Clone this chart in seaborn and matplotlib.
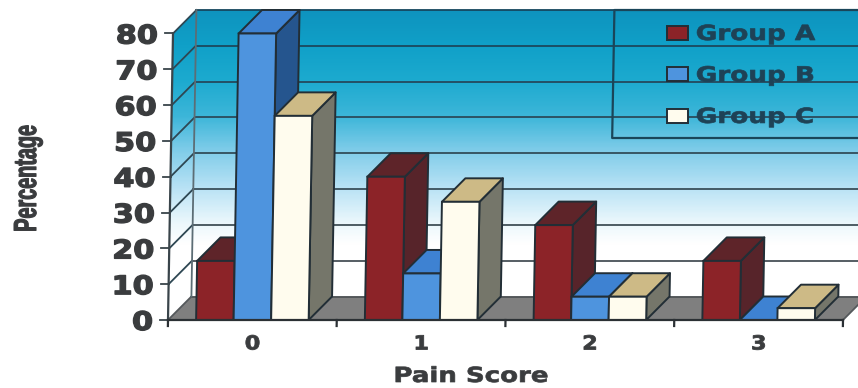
import matplotlib
matplotlib.use("Agg")
import matplotlib.pyplot as plt
import numpy as np
import pandas as pd
import seaborn as sns
from matplotlib.colors import LinearSegmentedColormap, to_rgb
from matplotlib.patches import Polygon
from matplotlib.patheffects import AbstractPathEffect
from matplotlib.transforms import Affine2D

# Chart values
SCORES = ["0", "1", "2", "3"]
GROUPS = ["Group A", "Group B", "Group C"]
GROUP_A = [16.5, 40, 26.5, 16.5]
GROUP_B = [80, 13, 6.5, 0]
GROUP_C = [57, 33, 6.5, 3.3]
Y_TICKS = [0, 10, 20, 30, 40, 50, 60, 70, 80]

# Face colours of each group: front, top, side
FRONT = ["#8C2328", "#4E94DE", "#FFFCEE"]
TOP = ["#5E2429", "#3E82D2", "#CDBA86"]
SIDE = ["#57242A", "#25558E", "#75766A"]
EDGE = "#222E36"
TEXT = "#3A3C3E"

W, H = 858, 388
X0, X1, Y0, Y80 = 168, 843, 320, 33.5
PX_X = (X1 - X0) / 4
PX_Y = (Y0 - Y80) / 80
DX = 23 / PX_X          # depth of the 3-D box, in data units
DY = 23.5 / PX_Y
SKEW = (5 / PX_X) / 80  # the whole plot leans slightly to the right


class Stretch(AbstractPathEffect):
    """Widen text about its left, centre or right edge and thicken its strokes."""

    def __init__(self, sx, anchor="center", heavy=0.0):
        super().__init__()
        self.sx, self.anchor, self.heavy = sx, anchor, heavy

    def draw_path(self, renderer, gc, tpath, affine, rgbFace=None):
        xs = tpath.vertices[:, 0]
        pivot = {"left": xs.min(), "right": xs.max(), "center": (xs.min() + xs.max()) / 2}[self.anchor]
        local = Affine2D().translate(-pivot, 0).scale(self.sx, 1).translate(pivot, 0)
        gc0 = renderer.new_gc()
        gc0.copy_properties(gc)
        gc0.set_foreground(rgbFace)
        gc0.set_linewidth(self.heavy)
        renderer.draw_path(gc0, tpath, local + affine, rgbFace)
        gc0.restore()


sns.set_theme(style="white")
fig = plt.figure(figsize=(W / 100, H / 100), dpi=100, facecolor="white")
ax = fig.add_axes([X0 / W, (H - Y0) / H, (X1 - X0) / W, (Y0 - Y80) / H])

df = pd.DataFrame({
    "score": SCORES * 3,
    "group": np.repeat(GROUPS, 4),
    "pct": GROUP_A + GROUP_B + GROUP_C,
})
sns.barplot(data=df, x="score", y="pct", hue="group", order=SCORES, hue_order=GROUPS,
            palette=FRONT, saturation=1, width=0.667, gap=0, errorbar=None,
            edgecolor=EDGE, linewidth=1.4, legend=False, ax=ax)
ax.set_xlim(-0.5, 3.5)
ax.set_ylim(0, 80)
ax.set_axis_off()

tr = Affine2D.from_values(1, 0, SKEW, 1, 0, 0) + ax.transData
L, R = -0.5, 3.5

# Gradient on the back and left walls
stops_px = [10, 45, 80, 117, 150, 188, 222, 245, 320]
stops_col = ["#0E93BE", "#10A0C8", "#1CAACF", "#3DB6D9", "#7ECCE9", "#B8E2F5",
             "#EAF7FC", "#FFFFFF", "#FFFFFF"]
cmap = LinearSegmentedColormap.from_list(
    "wall", [((p - 10) / 310, c) for p, c in zip(stops_px, stops_col)])
wall_shape = Polygon([(L, 0), (L + DX, DY), (R + DX, DY), (R + DX, 80 + DY), (L + DX, 80 + DY), (L, 80)],
                     transform=tr)
img = ax.imshow(np.linspace(0, 1, 310)[:, None], cmap=cmap, aspect="auto", zorder=0,
                extent=[-1, 4, 0, 80 + DY], origin="upper")
img.set_clip_box(fig.bbox)
img.set_clip_path(wall_shape)
ax.set_xlim(L, R)
ax.set_ylim(0, 80)

# Floor
ax.add_patch(Polygon([(L, 0), (L + DX, DY), (R + DX, DY), (R, 0)], transform=tr, clip_on=False,
                     facecolor="#7F7F7F", edgecolor="none", zorder=1))


def grid_colour(v):
    t = v / 80
    a, b = np.array(to_rgb("#4F5356")), np.array(to_rgb("#15465E"))
    return tuple(a + (b - a) * t)


def seg(xs, ys, color, lw=1.3, z=2):
    ax.plot(xs, ys, transform=tr, color=color, lw=lw, clip_on=False, zorder=z,
            solid_capstyle="projecting")


# Gridlines across the back wall and down the left wall
for v in Y_TICKS:
    c = grid_colour(v)
    seg([L + DX, R + DX], [v + DY, v + DY], c)
    seg([L, L + DX], [v, v + DY], "#2E4753" if v else "#55595C")
seg([L + DX, L + DX], [DY, 80 + DY], "#5C6D75")

# Axis lines and tick marks
seg([L, L], [0, 80], "#39444A", lw=1.6, z=3)
seg([L, R], [0, 0], "#2B3034", lw=1.6, z=50)
seg([R, R + DX], [0, DY], "#55595C")
for v in Y_TICKS:
    seg([L - 8 / PX_X, L], [v, v], "#39444A", lw=1.3, z=3)
for i in range(5):
    seg([L + i, L + i], [0, -6 / PX_Y], "#2B3034", lw=1.6, z=3)

# Depth faces are built from the bars seaborn drew, painted left to right
bars = [(p, g) for g, cont in enumerate(ax.containers) for p in cont]
bars.sort(key=lambda item: item[0].get_x())
for k, (p, g) in enumerate(bars):
    base = 5 + k
    x, w, h = p.get_x(), p.get_width(), p.get_height()
    p.set_transform(tr)
    p.set_clip_on(False)
    p.set_zorder(base + 0.3)
    style = dict(transform=tr, clip_on=False, edgecolor=EDGE, linewidth=1.4, joinstyle="round")
    ax.add_patch(Polygon([(x + w, 0), (x + w + DX, DY), (x + w + DX, h + DY), (x + w, h)],
                         facecolor=SIDE[g], zorder=base + 0.1, **style))
    ax.add_patch(Polygon([(x, h), (x + DX, h + DY), (x + w + DX, h + DY), (x + w, h)],
                         facecolor=TOP[g], zorder=base + 0.2, **style))

# Text
for v in Y_TICKS:
    ax.text(L - 15 / PX_X, v, str(v), transform=tr, ha="right", va="center_baseline", fontsize=18.5,
            fontweight="bold", family="DejaVu Sans", color=TEXT, clip_on=False,
            path_effects=[Stretch(1.18, "right", 1.0)])
for i, s in enumerate(SCORES):
    ax.text(i, -22 / PX_Y, s, transform=ax.transData, ha="center", va="center_baseline", fontsize=14,
            fontweight="bold", family="DejaVu Sans", color=TEXT, clip_on=False,
            path_effects=[Stretch(1.15, "center", 0.6)])
fig.text(471 / W, (H - 376) / H, "Pain Score", ha="center", va="center", fontsize=15,
         fontweight="bold", family="DejaVu Sans", color=TEXT, path_effects=[Stretch(1.25, "center", 0.5)])
fig.text(28 / W, (H - 178) / H, "Percentage", ha="center", va="center", rotation=90, fontsize=23,
         fontweight="bold", family="Liberation Sans", color=TEXT, path_effects=[Stretch(0.62, "center", 0.8)])

# Legend box runs off the right edge of the figure
lx, ly = (609 - X0) / PX_X + L, (Y0 - 138) / PX_Y
ly_top = 80 + DY
ax.plot([R + 1, lx, lx, R + 1], [ly_top, ly_top, ly, ly], transform=tr, color="#1A4559",
        lw=1.6, clip_on=False, zorder=60)
leg = ax.legend(handles=[c[0] for c in ax.containers], labels=GROUPS, frameon=False,
                loc="upper left", bbox_to_anchor=(667 / W, (H - 24) / H), bbox_transform=fig.transFigure,
                borderpad=0, borderaxespad=0, handlelength=1.0, handleheight=0.65, handletextpad=0.38,
                labelspacing=1.03, prop=dict(family="DejaVu Sans", weight="bold", size=15))
leg.set_zorder(70)
for t in leg.get_texts():
    t.set_color("#1E4256")
    t.set_path_effects([Stretch(1.26, "left", 0.5)])

fig.savefig("out.png", dpi=100)
